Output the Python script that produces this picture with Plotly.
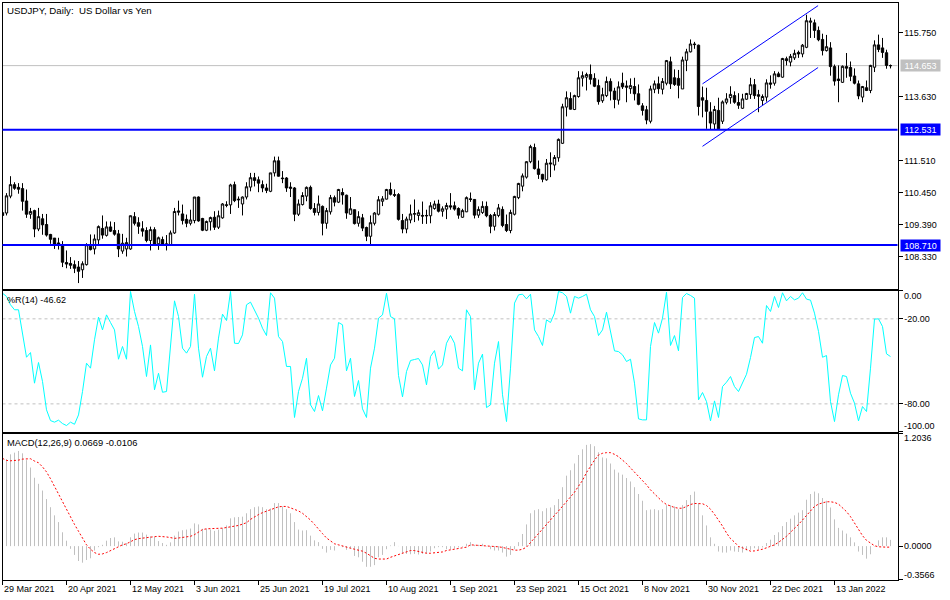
import plotly.graph_objects as go

W, H = 950, 600

OPEN = [109.78,109.77,110.33,110.71,110.62,110.58,110.17,109.73,109.85,109.24,109.58,109.39,109.06,108.94,108.78,108.72,108.13,108.10,108.06,107.98,
107.89,108.06,108.67,108.58,108.88,109.26,109.03,109.31,109.19,109.08,108.51,108.58,108.58,109.65,109.45,109.25,109.19,108.86,109.22,108.75,
108.89,108.75,108.72,109.11,109.84,109.74,109.56,109.43,109.52,110.30,109.59,109.20,109.48,109.63,109.30,109.61,110.02,110.04,110.71,110.23,
110.07,110.30,110.63,110.94,110.87,110.71,110.60,110.49,111.10,111.50,110.93,110.93,110.63,110.60,109.73,110.05,110.33,110.62,109.92,109.79,
109.99,109.43,109.81,110.28,110.13,110.45,110.36,109.73,109.88,109.43,109.61,109.29,109.00,109.43,109.73,110.16,110.23,110.55,110.38,110.38,
109.52,109.24,109.54,109.73,109.69,109.69,109.69,109.68,109.92,110.07,109.83,109.90,110.01,110.01,109.92,109.63,109.81,110.24,110.22,109.70,
109.79,109.99,109.69,109.33,109.69,109.89,109.39,109.19,109.73,110.28,110.66,110.96,111.47,111.94,111.23,111.05,110.87,111.43,111.36,111.60,
112.08,113.28,113.56,113.20,113.63,114.24,114.27,114.36,114.23,113.99,113.49,113.66,114.13,113.81,113.51,114.07,113.98,113.89,113.96,113.72,
113.32,113.19,112.81,113.87,114.05,113.87,114.07,114.78,114.25,114.23,113.88,114.83,115.11,115.37,115.33,113.59,113.50,113.12,112.72,113.17,
112.81,113.44,113.59,113.66,113.43,113.24,113.54,113.70,114.02,113.69,113.50,113.61,114.08,114.07,114.38,114.27,114.88,114.77,114.91,115.09,
115.04,115.26,116.09,116.07,115.82,115.52,115.15,115.24,114.62,114.21,114.10,114.62,114.59,114.31,114.05,113.61,113.92,113.83,114.60,115.34,
115.24,115.08,114.65]

HIGH = [109.91,110.43,110.99,110.79,110.76,110.76,110.55,109.94,109.88,109.94,109.74,109.74,109.08,108.94,108.95,108.84,108.53,108.31,108.20,108.18,
108.17,108.77,109.06,109.06,109.36,109.69,109.49,109.49,109.47,109.21,109.08,108.95,109.69,109.80,109.63,109.50,109.30,109.32,109.30,108.99,
108.99,109.04,109.19,109.94,110.18,110.05,109.72,109.88,110.30,110.32,109.61,109.52,109.65,109.83,109.85,110.10,110.16,110.74,110.81,110.32,
110.32,110.79,111.10,111.10,110.98,110.85,110.74,111.10,111.64,111.64,111.16,110.96,110.79,110.63,110.22,110.46,110.65,110.68,110.10,110.35,
110.02,109.94,110.37,110.35,110.57,110.59,110.38,110.30,109.88,109.83,109.74,109.32,109.69,109.80,110.33,110.33,110.57,110.78,110.55,110.43,
109.74,109.65,110.05,110.22,109.88,110.15,109.88,110.13,110.18,110.21,109.99,110.11,110.43,110.15,109.96,109.91,110.32,110.45,110.23,109.99,
110.16,110.15,109.74,109.80,110.07,109.99,109.72,109.88,110.34,110.77,111.08,111.49,112.03,112.07,111.51,111.07,111.56,111.78,111.69,112.24,
113.39,113.80,113.77,113.69,114.47,114.46,114.42,114.69,114.40,114.19,113.92,114.29,114.23,113.92,114.13,114.42,114.16,114.23,114.25,114.03,
113.41,113.32,113.99,114.16,114.29,114.24,114.84,114.95,114.53,114.51,114.95,115.21,115.52,115.44,115.35,113.96,113.92,113.44,113.32,113.59,
113.50,113.74,113.97,113.80,113.74,113.72,113.75,114.25,114.21,113.85,113.70,114.20,114.33,114.47,114.45,114.91,114.95,115.04,115.18,115.15,
115.37,116.34,116.24,116.18,115.95,115.71,115.67,115.43,114.69,114.66,114.66,115.07,114.79,114.56,114.16,113.98,114.16,114.68,115.49,115.68,
115.57,115.18,114.69]

LOW = [109.63,109.69,110.26,110.54,110.41,109.85,109.61,109.58,108.97,109.17,109.05,108.99,108.75,108.58,108.56,107.98,107.94,107.92,107.78,107.45,
107.62,108.03,108.53,108.40,108.73,108.92,108.99,109.14,109.02,108.31,108.42,108.33,108.55,109.36,109.08,108.99,108.80,108.53,108.69,108.55,
108.69,108.53,108.69,109.08,109.69,109.39,109.30,109.36,109.43,109.48,109.17,109.17,109.19,109.21,109.24,109.58,109.96,109.74,110.13,109.94,
109.69,110.22,110.49,110.65,110.46,110.46,110.43,110.46,110.98,110.98,110.76,110.47,110.30,109.50,109.67,110.02,110.16,109.88,109.69,109.69,
109.03,109.25,109.72,109.99,110.10,110.05,109.58,109.72,109.39,109.32,109.17,108.84,108.72,109.36,109.69,110.00,110.22,110.35,110.30,109.52,
109.10,109.10,109.43,109.47,109.52,109.41,109.41,109.43,109.88,109.79,109.65,109.57,109.88,109.85,109.58,109.61,109.80,110.14,109.59,109.61,
109.74,109.63,109.10,109.19,109.63,109.30,109.14,109.10,109.69,110.23,110.49,110.91,111.42,111.21,110.90,110.79,110.84,110.96,111.18,111.47,
112.06,112.97,113.20,113.18,113.59,113.96,113.83,114.03,113.94,113.36,113.42,113.61,113.50,113.24,113.36,113.88,113.44,113.72,113.50,113.34,
113.00,112.71,112.74,113.74,113.72,113.70,114.00,113.88,113.98,113.57,113.88,114.47,115.09,115.21,113.00,112.94,112.56,112.55,112.55,112.55,
112.72,113.37,113.39,113.39,113.22,113.22,113.52,113.55,113.55,113.11,113.33,113.46,113.89,113.99,114.27,114.25,114.66,114.63,114.84,114.91,
114.93,115.23,115.57,115.57,115.46,114.99,115.12,114.32,113.99,113.44,114.08,114.25,114.14,114.03,113.54,113.44,113.81,113.74,114.44,115.10,
114.91,114.55,114.56]

CLOSE = [109.69,110.34,110.71,110.59,110.56,110.16,109.73,109.82,109.24,109.65,109.38,109.04,108.90,108.73,108.71,108.14,108.08,108.04,107.94,107.84,
108.09,108.72,108.56,108.91,109.32,109.04,109.31,109.17,109.07,108.58,108.77,108.79,109.68,109.43,109.33,109.17,108.86,109.22,108.72,108.95,
108.72,108.72,109.11,109.82,109.80,109.52,109.43,109.54,110.30,109.51,109.20,109.49,109.62,109.30,109.68,110.07,110.04,110.70,110.18,110.21,
110.30,110.64,110.94,110.85,110.76,110.60,110.52,111.10,111.50,110.99,110.91,110.60,110.59,109.73,110.07,110.35,110.62,109.92,109.79,110.07,
109.43,109.85,110.28,110.13,110.55,110.37,109.77,109.91,109.42,109.65,109.27,109.00,109.45,109.77,110.21,110.24,110.55,110.39,110.36,109.56,
109.24,109.57,109.74,109.75,109.78,109.67,109.68,110.01,110.07,109.83,109.91,110.02,109.97,109.90,109.70,109.85,110.28,110.22,109.70,109.89,
109.99,109.68,109.33,109.72,109.94,109.36,109.19,109.79,110.32,110.75,111.00,111.47,111.97,111.24,111.05,110.89,111.42,111.40,111.61,112.21,
113.29,113.59,113.21,113.66,114.25,114.32,114.36,114.20,113.97,113.46,113.69,114.13,113.81,113.53,113.95,113.95,113.94,113.99,113.72,113.37,
113.17,112.85,113.88,114.05,113.89,114.13,114.82,114.05,114.03,114.00,114.84,115.11,115.37,115.35,113.30,113.51,113.14,112.75,113.20,112.56,
113.45,113.55,113.70,113.44,113.34,113.55,113.73,114.02,113.66,113.64,113.63,114.08,114.04,114.38,114.29,114.89,114.82,114.96,115.06,115.04,
115.33,116.14,116.13,115.82,115.51,115.15,115.28,114.62,114.14,114.16,114.63,114.57,114.30,114.07,113.65,113.96,113.83,114.66,115.34,115.19,
115.09,114.66,114.653]

WPR = [-1.9,-4.2,-10.1,-13.6,-13.6,-31.3,-47.1,-43.8,-65.4,-50.8,-64.2,-84.2,-91.8,-92.9,-91.5,-93.9,-95.3,-92.9,-94.4,-87.8,
-71.3,-51.3,-54.8,-34.8,-18.8,-27.8,-17.2,-22.6,-27.8,-48.5,-39.5,-48.5,-0.7,-14.8,-25.4,-39.5,-60.7,-38.4,-70.1,-58.4,
-71.8,-71.3,-40.7,-7.3,-18.4,-40.7,-44.2,-39.5,-2.6,-40.7,-61.2,-46.6,-40.7,-56.7,-33.6,-16.7,-21.2,-0.7,-37.2,-37.4,
-31.3,-10.1,-8.2,-13.6,-19.5,-26.6,-31.8,-1.6,-5.4,-32.5,-36,-53.6,-53.6,-89.6,-71.3,-61.9,-47.8,-80.7,-85.4,-74.1,
-84.9,-68.9,-52.5,-47.8,-22.6,-24.2,-56.7,-47.8,-74.8,-63.5,-83.5,-89.6,-54.8,-40.7,-19.5,-17.2,-1.9,-18.4,-20,-60,
-75.1,-57.2,-49.4,-48.7,-48,-52.5,-66.6,-46.6,-42.4,-55.5,-52.5,-37.2,-31.8,-37.2,-54.8,-56.7,-13.6,-18.4,
-70.1,-51.3,-44.9,-82.6,-80.7,-51.3,-36,-73.6,-92.5,-54.8,-8.9,-3.1,-2.6,-5.9,-2.6,-27.8,-32.5,-38.8,-20.7,-22.6,
-16,-0.7,-1.6,-4.2,-16,-4.2,-5.4,-4.2,-2.6,-13.6,-18.4,-31.8,-27.8,-15.3,-27.8,-42.6,-43.1,-45.4,-50.1,-48.5,
-65.4,-90.6,-91.3,-91.3,-39.5,-22.6,-30.1,-19.5,-1.2,-38.8,-31.8,-42.6,-4.9,-2.1,-3.5,-5.4,-77.2,-72,-78.4,-92,
-77.9,-89.6,-67.8,-64.7,-60.7,-67.8,-71.3,-65.4,-59.1,-47.3,-33.2,-32.5,-37.2,-10.6,-14.8,-4.2,-12,-1.6,-7.3,-4.2,
-6.6,-5.4,-1.6,-6.1,-6.8,-16,-28.9,-47.1,-45.9,-78.4,-92.5,-73.6,-60,-60.7,-72.5,-79.5,-92,-81.9,-85.4,-54.8,
-20.2,-20,-25.4,-44.7,-46.62]

MACD_HIST = [.938,.930,.981,.999,1.017,.992,.919,.840,.731,.666,.594,.503,.416,.329,.257,.148,.058,-.029,-.094,-.159,
-.177,-.148,-.130,-.047,-.011,.014,.058,.087,.094,.051,.047,.033,.094,.134,.145,.145,.123,.105,.098,.054,
.033,.014,.040,.112,.156,.170,.177,.188,.243,.232,.185,.185,.177,.163,.177,.192,.221,.297,.308,.311,
.315,.351,.395,.416,.424,.416,.395,.402,.460,.460,.424,.395,.351,.257,.177,.167,.170,.112,.062,.043,
-.029,-.069,-.040,-.047,.004,-.011,-.040,-.025,-.105,-.119,-.167,-.221,-.221,-.203,-.119,-.094,-.033,.007,.043,.002,
-.076,-.083,-.087,-.083,-.090,-.083,-.076,-.058,-.022,-.011,-.011,-.033,-.033,-.025,-.014,-.007,.025,.043,
.014,.014,.025,-.004,-.033,-.047,-.047,-.069,-.112,-.094,-.033,.043,.130,.232,.351,.384,.395,.373,.405,.413,
.438,.503,.630,.753,.811,.883,.974,1.035,1.082,1.090,1.068,1.003,.948,.938,.883,.818,.786,.764,.728,.691,
.630,.557,.485,.384,.391,.395,.384,.395,.438,.438,.424,.395,.438,.492,.547,.583,.460,.329,.221,.094,
.025,-.058,-.069,-.069,-.047,-.058,-.062,-.069,-.047,-.040,-.022,-.033,-.014,.033,.069,.119,.148,.214,.257,.293,
.329,.358,.384,.496,.557,.583,.565,.514,.485,.413,.286,.195,.167,.134,.094,.040,-.058,-.094,-.134,-.087,
-.004,.062,.094,.094,.0669]

MACD_SIGNAL = [.938,.916,.912,.912,.919,.930,.934,.934,.909,.891,.847,.793,.720,.637,.557,.478,.395,.315,.232,.159,
.087,.014,-.033,-.069,-.087,-.083,-.069,-.047,-.022,-.004,.014,.025,.051,.069,.080,.087,.094,.098,.101,.105,
.105,.098,.091,.083,.087,.091,.094,.105,.123,.148,.177,.185,.185,.188,.188,.192,.199,.206,.210,.221,
.235,.250,.286,.315,.337,.358,.373,.387,.405,.420,.424,.424,.409,.395,.376,.351,.315,.279,.232,.177,
.134,.087,.051,.025,.014,0,-.011,-.022,-.033,-.040,-.054,-.076,-.105,-.130,-.138,-.141,-.138,-.119,-.105,-.094,
-.076,-.065,-.047,-.047,-.058,-.072,-.076,-.076,-.072,-.069,-.062,-.047,-.040,-.033,-.029,-.018,-.011,.014,
.011,.011,.011,.007,0,-.004,-.007,-.014,-.025,-.033,-.043,-.043,-.033,-.011,.033,.087,.134,.185,.232,.279,
.329,.376,.424,.474,.521,.576,.641,.702,.786,.858,.919,.974,.992,.999,.999,.981,.956,.919,.883,.836,
.793,.749,.702,.655,.601,.557,.521,.474,.445,.427,.413,.405,.405,.424,.445,.456,.456,.453,.434,.395,
.340,.279,.214,.141,.080,.043,-.004,-.018,-.040,-.054,-.051,-.043,-.033,-.018,-.004,.014,.040,.069,.105,.148,
.188,.232,.279,.329,.376,.424,.449,.460,.474,.474,.467,.449,.413,.369,.315,.250,.185,.112,.062,.033,
.004,-.007,-.011,-.011,-.0106]

DATE_LABELS = ["29 Mar 2021","20 Apr 2021","12 May 2021","3 Jun 2021","25 Jun 2021","19 Jul 2021","10 Aug 2021",
               "1 Sep 2021","23 Sep 2021","15 Oct 2021","8 Nov 2021","30 Nov 2021","22 Dec 2021","13 Jan 2022"]
PRICE_TICKS = [115.75, 113.63, 111.51, 110.45, 109.39, 108.33]
LEVEL_HIGH, LEVEL_LOW, LAST_PRICE = 112.531, 108.71, 114.653
CHANNEL_X = [175, 203.9]
CHANNEL_UP = [114.05, 116.64]
CHANNEL_DN = [111.98, 114.59]

lens = {k: len(v) for k, v in dict(O=OPEN, H=HIGH, L=LOW, C=CLOSE, W=WPR, M=MACD_HIST, S=MACD_SIGNAL).items()}
assert all(v == 223 for v in lens.values()), lens

idx = list(range(223))
FONT = dict(family="Liberation Sans", size=9, color="black")
def px_x(p): return p / W
def px_y(p): return 1 - p / H

fig = go.Figure()
fig.add_trace(go.Candlestick(
    x=idx, open=OPEN, high=HIGH, low=LOW, close=CLOSE, whiskerwidth=0,
    increasing=dict(line=dict(color="black", width=1), fillcolor="white"),
    decreasing=dict(line=dict(color="black", width=1), fillcolor="black"),
    hoverinfo="skip", showlegend=False, xaxis="x", yaxis="y"))
for ys in (CHANNEL_UP, CHANNEL_DN):
    fig.add_trace(go.Scatter(x=CHANNEL_X, y=ys, mode="lines", line=dict(color="#0000ff", width=1),
                             showlegend=False, hoverinfo="skip", xaxis="x", yaxis="y"))
fig.add_trace(go.Scatter(x=idx, y=WPR, mode="lines", line=dict(color="#00ffff", width=1),
                         showlegend=False, hoverinfo="skip", xaxis="x2", yaxis="y2"))
hist_x, hist_y = [], []
for i, v in zip(idx, MACD_HIST):
    hist_x += [i, i, None]
    hist_y += [0, v, None]
fig.add_trace(go.Scatter(x=hist_x, y=hist_y, mode="lines", line=dict(color="#c0c0c0", width=1),
                         showlegend=False, hoverinfo="skip", xaxis="x3", yaxis="y3"))
fig.add_trace(go.Scatter(x=idx, y=MACD_SIGNAL, mode="lines", line=dict(color="#ff0000", width=1, dash="2px,2px"),
                         showlegend=False, hoverinfo="skip", xaxis="x3", yaxis="y3"))

L, R = 2.5, 897.5
xrange_ = [(L - 2.5) / 4, (R - 2.5) / 4]
common_x = dict(range=xrange_, domain=[px_x(L), px_x(R)], showgrid=False, zeroline=False,
                showline=True, mirror=True, linecolor="black", linewidth=1, fixedrange=True)
common_y = dict(side="right", showgrid=False, zeroline=False, showline=True, mirror=True, linecolor="black",
                linewidth=1, ticks="outside", ticklen=4, tickcolor="black", tickwidth=1,
                tickfont=FONT, fixedrange=True)

fig.update_layout(
    width=W, height=H, margin=dict(l=0, r=0, t=0, b=0), paper_bgcolor="white", plot_bgcolor="white",
    showlegend=False, boxgap=0.42, boxgroupgap=0,
    xaxis=dict(common_x, anchor="y", showticklabels=False, ticks="", rangeslider=dict(visible=False)),
    xaxis2=dict(common_x, anchor="y2", showticklabels=False, ticks=""),
    xaxis3=dict(common_x, anchor="y3", showticklabels=False, ticks="outside", ticklen=4, tickcolor="black",
                tickvals=[16 * k for k in range(len(DATE_LABELS))]),
    yaxis=dict(common_y, anchor="x", domain=[px_y(288.5), px_y(2.5)], range=[107.27, 116.744],
               tickvals=PRICE_TICKS, ticktext=[f"{v:.3f}" for v in PRICE_TICKS]),
    yaxis2=dict(common_y, anchor="x2", domain=[px_y(431.5), px_y(290.5)], range=[-99.5, 0],
                tickvals=[0, -20, -80, -99.5], ticktext=["", "-20.00", "-80.00", ""]),
    yaxis3=dict(common_y, anchor="x3", domain=[px_y(579.5), px_y(433.5)], range=[-0.3566, 1.2036],
                tickvals=[1.2036, 0, -0.3566], ticktext=["", "", ""]),
)

fig.add_shape(type="line", xref="x domain", yref="y", x0=0, x1=1, y0=LAST_PRICE, y1=LAST_PRICE,
              line=dict(color="#c0c0c0", width=1), layer="below")
for lv in (LEVEL_HIGH, LEVEL_LOW):
    fig.add_shape(type="line", xref="x domain", yref="y", x0=0, x1=1, y0=lv, y1=lv,
                  line=dict(color="#0000ff", width=2))
for lv in (-20, -80):
    fig.add_shape(type="line", xref="x2 domain", yref="y2", x0=0, x1=1, y0=lv, y1=lv,
                  line=dict(color="#c0c0c0", width=1, dash="3px,3px"), layer="below")

def label(text, x, y, size=9, **kw):
    fig.add_annotation(text=text, x=x, y=y, xanchor="left", yanchor="middle", showarrow=False,
                       borderpad=0, font=dict(FONT, size=size), **kw)

label("USDJPY, Daily:&nbsp;&nbsp;US Dollar vs Yen", px_x(6), px_y(10), size=9.7, xref="paper", yref="paper")
label("%R(14) -46.62", px_x(6), px_y(300), size=9.1, xref="paper", yref="paper")
label("MACD(12,26,9) 0.0669 -0.0106", px_x(6), px_y(442.5), size=9.35, xref="paper", yref="paper")

for k, t in enumerate(DATE_LABELS):
    label(t, 16 * k, px_y(588.5), xref="x3", yref="paper")

label("0.00", px_x(903), 0, xref="paper", yref="y2", yshift=-5)
label("-100.00", px_x(903), -99.5, xref="paper", yref="y2", yshift=6)
label("1.2036", px_x(903), 1.2036, xref="paper", yref="y3", yshift=-4)
label("0.0000", px_x(903), 0, xref="paper", yref="y3")
label("-0.3566", px_x(903), -0.3566, xref="paper", yref="y3", yshift=5)

for price, bg in ((LAST_PRICE, "#c0c0c0"), (LEVEL_HIGH, "#0000ff"), (LEVEL_LOW, "#0000ff")):
    fig.add_annotation(text=f"{price:.3f}", x=px_x(900), y=price, xref="paper", yref="y", xanchor="left",
                       yanchor="middle", showarrow=False, bgcolor=bg, borderpad=0, width=39, height=11,
                       align="center", font=dict(family="Liberation Sans", size=9, color="white"))

fig.write_html("out.html", config=dict(displayModeBar=False), post_script="document.body.style.margin='0';")
